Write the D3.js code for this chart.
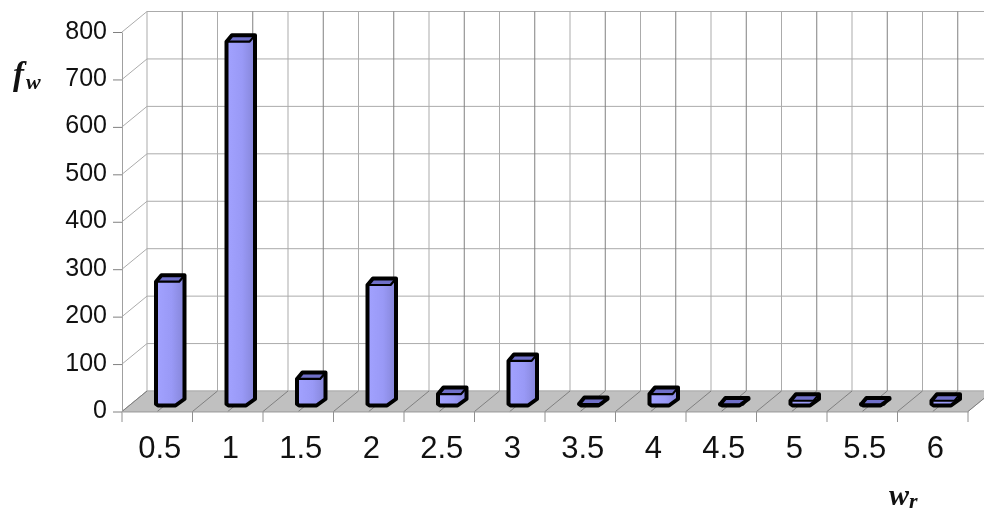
<!DOCTYPE html>
<html><head><meta charset="utf-8">
<script src="https://cdnjs.cloudflare.com/ajax/libs/d3/7.8.5/d3.min.js"></script>
<style>
html,body{margin:0;padding:0;background:#fff;overflow:hidden}
svg{display:block;filter:blur(0.35px)}
</style></head><body>
<svg id="c" width="984" height="514"></svg>
<script>
const categories = ["0.5","1","1.5","2","2.5","3","3.5","4","4.5","5","5.5","6"];
const values = [261,767,56,254,24,94,3,24,2,10,2,10];
const yTicks = [0,100,200,300,400,500,600,700,800];

const svg = d3.select("#c");
const x = d3.scaleBand().domain(categories).range([122,968]).paddingInner(0).paddingOuter(0);
const y = d3.scaleLinear().domain([0,800]).range([411.5,32]);
const dx = 25, dy = -20.5;
const step = x.step();

// gradient for the bar bodies
const defs = svg.append("defs");
const g = defs.append("linearGradient").attr("id","front").attr("x1",0).attr("x2",1).attr("y1",0).attr("y2",0);
g.append("stop").attr("offset","0%").attr("stop-color","#a2a2ff");
g.append("stop").attr("offset","55%").attr("stop-color","#9999f6");
g.append("stop").attr("offset","100%").attr("stop-color","#8585d8");

// back wall and left wall grid
const grid = svg.append("g").attr("fill","none").attr("stroke-width",1);
yTicks.forEach(t=>{
  grid.append("line").attr("x1",x.range()[0]+dx).attr("x2",x.range()[1]+dx)
    .attr("y1",y(t)+dy).attr("y2",y(t)+dy).attr("stroke","#ababab");
  grid.append("line").attr("x1",x.range()[0]).attr("x2",x.range()[0]+dx)
    .attr("y1",y(t)).attr("y2",y(t)+dy).attr("stroke","#ababab");
});
const halfEdges = d3.range(0, categories.length*2+1);
halfEdges.forEach(i=>{
  const px = x.range()[0]+dx+i*step/2;
  grid.append("line").attr("x1",px).attr("x2",px).attr("y1",y(800)+dy).attr("y2",y(0)+dy)
    .attr("stroke", i%2? "#808080":"#ababab");
});

// floor
svg.append("polygon").attr("fill","#c0c0c0").attr("stroke","#a8a8a8").attr("stroke-width",0.8)
  .attr("points",[[x.range()[0],y(0)],[x.range()[0]+dx,y(0)+dy],[x.range()[1]+dx,y(0)+dy],[x.range()[1],y(0)]].join(" "));
halfEdges.forEach(i=>{
  const px = x.range()[0]+i*step/2;
  svg.append("line").attr("x1",px).attr("x2",px+dx).attr("y1",y(0)).attr("y2",y(0)+dy)
    .attr("stroke","#6f6f6f").attr("stroke-width",0.8);
});

// left axis
const yAxis = svg.append("g").attr("transform",`translate(${x.range()[0]},0)`)
  .call(d3.axisLeft(y).tickValues(yTicks).tickSize(9).tickPadding(6).tickSizeOuter(0));
yAxis.select(".domain").attr("stroke","#a0a0a0");
yAxis.selectAll(".tick line").attr("stroke","#808080");
yAxis.selectAll("text").attr("font-family","'Liberation Sans',Arial,sans-serif").attr("font-size",25)
  .attr("fill","#111").attr("dy","0.24em");

// bottom axis: labels from the band scale, ticks at band edges
const xAxis = svg.append("g").attr("transform",`translate(0,${y(0)})`)
  .call(d3.axisBottom(x).tickSize(0).tickPadding(24));
xAxis.select(".domain").attr("stroke","#a0a0a0");
xAxis.selectAll("text").attr("font-family","'Liberation Sans',Arial,sans-serif").attr("font-size",31)
  .attr("fill","#111").attr("dx",2.5);
d3.range(0,categories.length+1).forEach(i=>{
  const px = x.range()[0]+i*step;
  svg.append("line").attr("x1",px).attr("x2",px).attr("y1",y(0)).attr("y2",y(0)+10.5)
    .attr("stroke","#909090").attr("stroke-width",1);
});

// bars as little prisms
const fw = 19.5, bx = 9, by = -6.5, inX = 34, inY = -6;
const bars = svg.append("g").attr("stroke","#000").attr("stroke-linejoin","round");
categories.forEach((c,i)=>{
  const l = x(c)+inX, r = l+fw, b = y(0)+inY, t = y(values[i])+inY;
  const outline = d3.line()([[l,t],[l,b-1.5],[l+2,b],[r,b],[r+bx,b+by],[r+bx,t+by],[l+bx*0.6,t+by],[l,t]])+"Z";
  bars.append("path").attr("fill","url(#front)").attr("stroke","none").attr("d",outline);
  bars.append("polygon").attr("fill","#6f6fc8").attr("stroke-width",2.2)
    .attr("points",[[l,t],[l+bx*0.6,t+by],[r+bx,t+by],[r+bx*0.4,t],[r,t]].join(" "));
  bars.append("path").attr("fill","none").attr("stroke-width",4).attr("d",outline);
});

// axis titles
const serif = "'Liberation Serif','Times New Roman',serif";
const fTitle = svg.append("text").attr("x",13).attr("y",85).attr("font-family",serif)
  .attr("font-weight","bold").attr("font-style","italic").attr("font-size",33).attr("fill","#111").text("f");
fTitle.append("tspan").attr("font-size",22).attr("dy",4).attr("dx",2).text("w");
const wTitle = svg.append("text").attr("x",889).attr("y",505).attr("font-family",serif)
  .attr("font-weight","bold").attr("font-style","italic").attr("font-size",30).attr("fill","#111").text("w");
wTitle.append("tspan").attr("font-size",22).attr("dy",3).text("r");
</script>
</body></html>
